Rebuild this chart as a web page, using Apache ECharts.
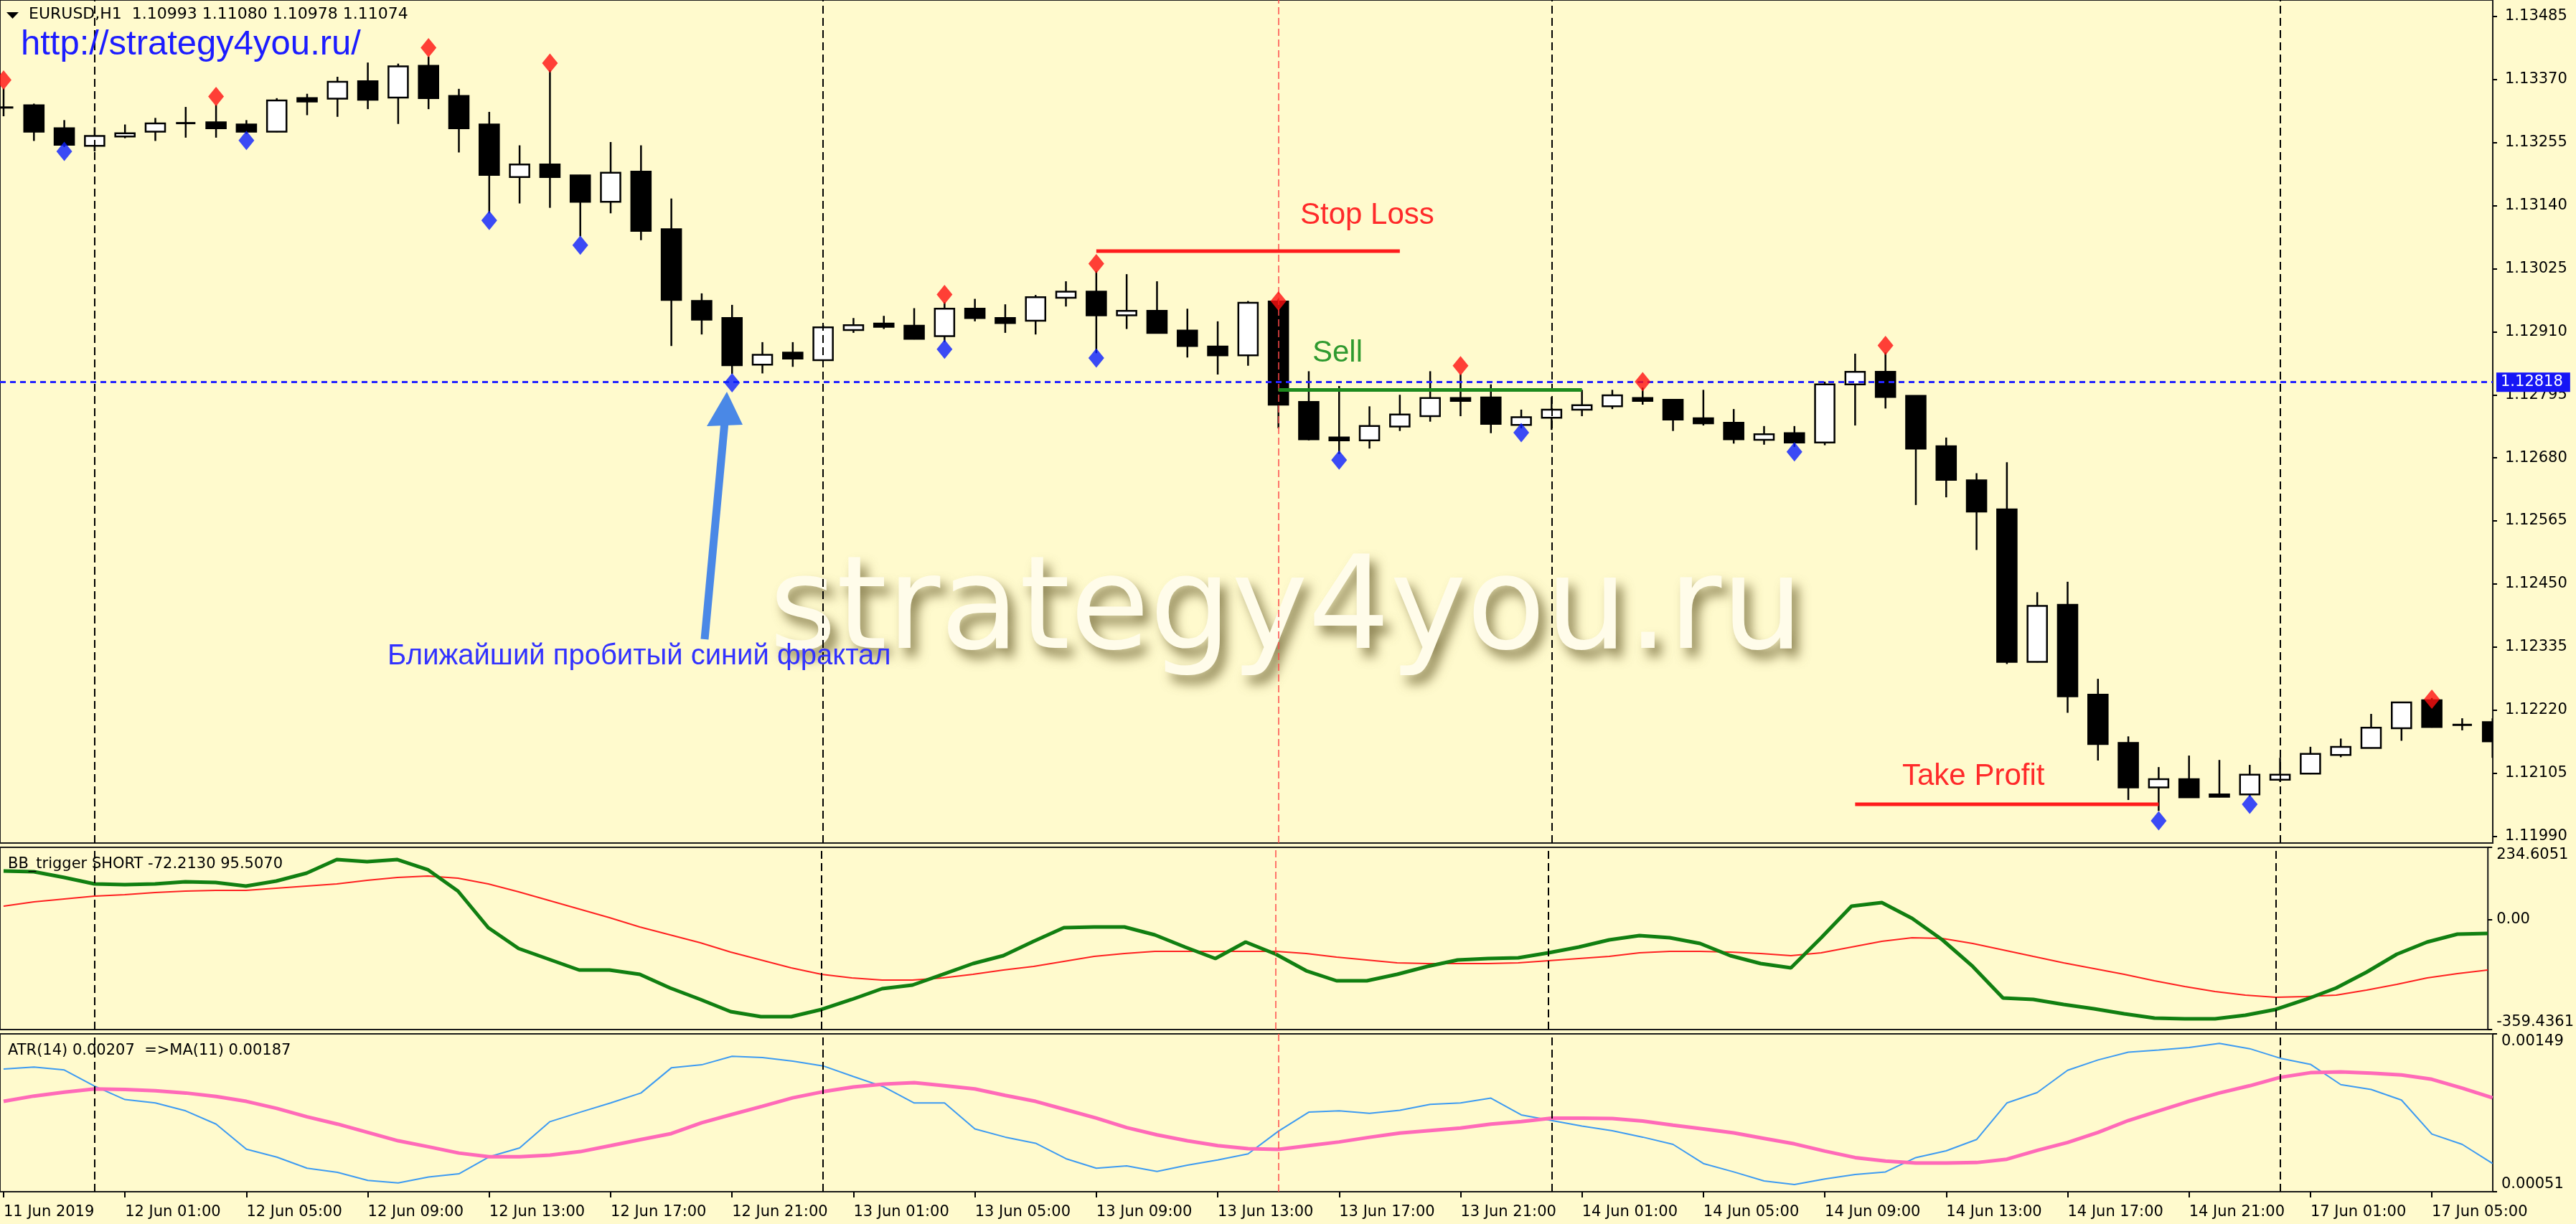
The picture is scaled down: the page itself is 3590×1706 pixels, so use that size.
<!DOCTYPE html>
<html>
<head>
<meta charset="utf-8">
<script src="https://cdn.jsdelivr.net/npm/echarts/dist/echarts.min.js"></script>
<style>
html,body{margin:0;padding:0;background:#fffacd;}
#chart{width:3590px;height:1706px;}
</style>
</head>
<body>
<div id="chart"></div>
<script>
// ---------------- DATA ----------------
const opens = [1.13320,1.13323,1.13281,1.13249,1.13266,1.13275,1.13290,1.13292,1.13288,1.13275,
1.13336,1.13335,1.13367,1.13337,1.13395,1.13340,1.13288,1.13192,1.13215,1.13195,
1.13147,1.13202,1.13097,1.12966,1.12935,1.12850,1.12872,1.12858,1.12913,1.12925,
1.12921,1.12902,1.12952,1.12935,1.12930,1.12972,1.12983,1.12940,1.12948,1.12912,
1.12883,1.12867,1.12965,1.12782,1.12717,1.12712,1.12737,1.12756,1.12789,1.12790,
1.12740,1.12753,1.12768,1.12774,1.12789,1.12786,1.12752,1.12744,1.12713,1.12725,
1.12708,1.12814,1.12837,1.12793,1.12701,1.12639,1.12586,1.12308,1.12412,1.12248,
1.12160,1.12079,1.12094,1.12066,1.12066,1.12093,1.12104,1.12138,1.12151,1.12187,
1.12238,1.12193,1.12198];
const highs = [1.13354,1.13326,1.13296,1.13283,1.13288,1.13300,1.13320,1.13324,1.13296,1.13336,
1.13344,1.13375,1.13401,1.13399,1.13412,1.13353,1.13311,1.13250,1.13387,1.13196,
1.13256,1.13250,1.13153,1.12980,1.12959,1.12891,1.12891,1.12922,1.12935,1.12939,
1.12953,1.12964,1.12970,1.12960,1.12977,1.13002,1.13021,1.13015,1.13002,1.12952,
1.12929,1.12966,1.12969,1.12838,1.12811,1.12774,1.12795,1.12838,1.12833,1.12814,
1.12768,1.12791,1.12804,1.12804,1.12808,1.12787,1.12804,1.12769,1.12738,1.12738,
1.12819,1.12870,1.12872,1.12793,1.12717,1.12652,1.12672,1.12435,1.12454,1.12277,
1.12172,1.12116,1.12137,1.12129,1.12120,1.12133,1.12153,1.12168,1.12213,1.12235,
1.12242,1.12205,1.12205];
const lows = [1.13303,1.13258,1.13247,1.13239,1.13263,1.13258,1.13264,1.13264,1.13271,1.13274,
1.13305,1.13302,1.13316,1.13289,1.13316,1.13237,1.13126,1.13144,1.13136,1.13084,
1.13126,1.13077,1.12884,1.12905,1.12833,1.12834,1.12846,1.12858,1.12908,1.12915,
1.12896,1.12891,1.12929,1.12908,1.12905,1.12956,1.12871,1.12915,1.12907,1.12863,
1.12832,1.12848,1.12734,1.12712,1.12687,1.12697,1.12729,1.12746,1.12756,1.12725,
1.12734,1.12731,1.12756,1.12769,1.12777,1.12729,1.12739,1.12706,1.12704,1.12700,
1.12703,1.12739,1.12770,1.12594,1.12608,1.12512,1.12304,1.12307,1.12215,1.12128,
1.12056,1.12036,1.12060,1.12061,1.12062,1.12089,1.12103,1.12134,1.12150,1.12164,
1.12188,1.12183,1.12133];
const closes = [1.13318,1.13275,1.13251,1.13267,1.13272,1.13290,1.13291,1.13281,1.13275,1.13332,
1.13330,1.13366,1.13333,1.13394,1.13336,1.13281,1.13196,1.13215,1.13192,1.13147,
1.13200,1.13094,1.12968,1.12932,1.12849,1.12868,1.12861,1.12918,1.12922,1.12919,
1.12897,1.12952,1.12935,1.12926,1.12973,1.12983,1.12940,1.12948,1.12908,1.12884,
1.12867,1.12963,1.12777,1.12714,1.12712,1.12738,1.12759,1.12789,1.12784,1.12742,
1.12754,1.12768,1.12776,1.12794,1.12784,1.12750,1.12743,1.12714,1.12723,1.12708,
1.12814,1.12837,1.12791,1.12697,1.12640,1.12582,1.12308,1.12410,1.12245,1.12158,
1.12079,1.12094,1.12061,1.12062,1.12102,1.12102,1.12140,1.12153,1.12188,1.12234,
1.12189,1.12193,1.12163];

// Bill Williams fractals (bar index, marker price)
const fractalUpBars   = [0,7,14,18,31,36,42,48,54,62,80];
const fractalUpPrices = [1.13369,1.13339,1.13428,1.13400,1.12978,1.13034,1.12966,1.12848,1.12819,1.12885,1.12240];
const fractalDnBars   = [2,8,16,19,24,31,36,44,50,59,71,74];
const fractalDnPrices = [1.13239,1.13259,1.13113,1.13068,1.12817,1.12878,1.12862,1.12676,1.12726,1.12691,1.12018,1.12048];

// trade levels: [fromBar, toBar, price]
const stopLoss   = [36, 46, 1.13057];
const sellLevel  = [42, 52, 1.12804];
const takeProfit = [61, 71, 1.12048];
const fractalLevel = 1.12818;

// BB_trigger sub-window
const bbMain = [157.4,155.1,136.4,115.3,113.0,115.3,122.3,120.0,108.3,124.7,
150.4,194.8,187.8,194.8,162.1,91.9,-27.3,-95.2,-130.2,-165.3,
-165.3,-179.4,-223.8,-261.2,-301.0,-317.3,-317.3,-293.9,-261.2,-226.1,
-214.4,-179.4,-144.3,-118.5,-71.8,-27.3,-25.0,-25.0,-50.7,-90.5,
-127.9,-74.1,-113.9,-167.7,-200.4,-200.4,-179.4,-153.6,-132.6,-127.9,
-125.6,-109.2,-90.5,-67.1,-53.1,-60.1,-78.8,-118.5,-144.3,-158.3,
-60.1,42.8,54.5,3.1,-67.1,-153.6,-256.5,-261.2,-277.6,-291.6,
-308.0,-322.0,-324.4,-324.4,-312.7,-293.9,-261.2,-223.8,-172.3,-113.9,
-74.1,-48.4,-46.0];
const bbSignal = [42.8,56.9,66.2,75.6,80.2,87.3,91.9,94.3,94.3,101.3,
108.3,115.3,127.0,136.4,141.1,134.0,115.3,89.6,61.5,33.5,
5.4,-25.0,-50.7,-76.4,-106.9,-132.6,-158.3,-179.4,-191.0,-198.1,
-198.1,-191.0,-179.4,-165.3,-153.6,-137.3,-120.9,-111.5,-104.5,-104.5,
-104.5,-104.5,-104.5,-111.5,-123.2,-132.6,-141.9,-144.3,-144.3,-144.3,
-141.9,-134.9,-127.9,-120.9,-109.2,-104.5,-104.5,-106.9,-111.5,-118.5,
-109.2,-90.5,-71.8,-60.1,-62.4,-78.8,-99.8,-120.9,-141.9,-160.6,
-179.4,-200.4,-219.1,-235.5,-247.2,-254.2,-251.8,-247.2,-230.8,-212.1,
-191.0,-177.0,-165.3];

// ATR(14) and its MA(11)
const atr = [0.001272,0.001284,0.001266,0.001165,0.001082,0.001061,0.001012,0.000930,0.000774,0.000725,
0.000656,0.000630,0.000580,0.000565,0.000601,0.000621,0.000727,0.000782,0.000945,0.001004,
0.001061,0.001123,0.001279,0.001298,0.001351,0.001343,0.001321,0.001291,0.001225,0.001161,
0.001061,0.001061,0.000900,0.000849,0.000811,0.000715,0.000656,0.000670,0.000636,0.000675,
0.000707,0.000745,0.000886,0.001004,0.001012,0.000997,0.001016,0.001052,0.001061,0.001091,
0.000987,0.000952,0.000918,0.000889,0.000849,0.000804,0.000685,0.000633,0.000577,0.000555,
0.000589,0.000617,0.000633,0.000722,0.000764,0.000834,0.001061,0.001126,0.001264,0.001328,
0.001376,0.001390,0.001405,0.001431,0.001398,0.001339,0.001301,0.001175,0.001145,0.001079,
0.000868,0.000804,0.000685];
const atrMa = [0.001071,0.001104,0.001128,0.001148,0.001145,0.001137,0.001123,0.001101,0.001071,0.001027,
0.000975,0.000930,0.000878,0.000826,0.000789,0.000750,0.000727,0.000727,0.000737,0.000759,
0.000796,0.000834,0.000871,0.000938,0.000990,0.001041,0.001093,0.001131,0.001160,0.001178,
0.001187,0.001168,0.001148,0.001108,0.001071,0.001019,0.000967,0.000908,0.000863,0.000826,
0.000796,0.000777,0.000773,0.000796,0.000819,0.000848,0.000874,0.000890,0.000905,0.000930,
0.000945,0.000967,0.000967,0.000964,0.000949,0.000923,0.000900,0.000875,0.000841,0.000807,
0.000762,0.000722,0.000700,0.000688,0.000688,0.000691,0.000712,0.000767,0.000816,0.000878,
0.000952,0.001012,0.001071,0.001123,0.001168,0.001220,0.001249,0.001254,0.001246,0.001235,
0.001208,0.001153,0.001093];

// axis ticks
const priceTicks = [1.11990,1.12105,1.12220,1.12335,1.12450,1.12565,1.12680,1.12795,1.12910,1.13025,1.13140,1.13255,1.13370,1.13485];
const bbTickValues = [-359.4361, 0, 234.6051];
const bbTickLabels = ['-359.4361','0.00','234.6051'];
const atrTickValues = [0.00051, 0.00149];
const atrTickLabels = ['0.00051','0.00149'];
const timeTickBars = [0,4,8,12,16,20,24,28,32,36,40,44,48,52,56,60,64,68,72,76,80];
const timeTickLabels = ['11 Jun 2019','12 Jun 01:00','12 Jun 05:00','12 Jun 09:00','12 Jun 13:00','12 Jun 17:00','12 Jun 21:00',
'13 Jun 01:00','13 Jun 05:00','13 Jun 09:00','13 Jun 13:00','13 Jun 17:00','13 Jun 21:00',
'14 Jun 01:00','14 Jun 05:00','14 Jun 09:00','14 Jun 13:00','14 Jun 17:00','14 Jun 21:00',
'17 Jun 01:00','17 Jun 05:00'];
const daySeparatorBars = [3, 27, 51, 75];
const signalBar = 42;

// ---------------- CHART ----------------
const chart = echarts.init(document.getElementById('chart'), null, {renderer: 'canvas'});
const AX_FONT = 'DejaVu Sans';
const X_MIN = -0.118, X_MAX = 82.007;

const candleData = opens.map((o, i) => [i, o, closes[i], lows[i], highs[i]]);

function renderCandle(params, api) {
  const x = api.value(0), o = api.value(1), c = api.value(2), l = api.value(3), h = api.value(4);
  const pO = api.coord([x, o]), pC = api.coord([x, c]);
  const pL = api.coord([x, l]), pH = api.coord([x, h]);
  const w = api.size([1, 0])[0] * 0.64;
  const top = Math.min(pO[1], pC[1]), bot = Math.max(pO[1], pC[1]);
  const children = [{
    type: 'line',
    shape: {x1: pO[0], y1: pH[1], x2: pO[0], y2: pL[1]},
    style: {stroke: '#000', lineWidth: 2.5}
  }];
  if (bot - top < 3) {
    children.push({type: 'rect', shape: {x: pO[0] - w / 2, y: (top + bot) / 2 - 1.5, width: w, height: 3}, style: {fill: '#000'}});
  } else {
    children.push({type: 'rect', shape: {x: pO[0] - w / 2, y: top, width: w, height: bot - top},
      style: {fill: c > o ? '#ffffff' : '#000000', stroke: '#000', lineWidth: 2.5}});
  }
  return {type: 'group', children};
}

function sepMarkLine() {
  return {
    silent: true, symbol: 'none', label: {show: false},
    data: daySeparatorBars.map(b => ({xAxis: b, lineStyle: {color: '#000', width: 2, type: [11, 6]}}))
      .concat([{xAxis: signalBar, lineStyle: {color: '#ff4a4a', width: 1.5, type: [10, 5]}}])
  };
}

function levelSeries(lv, color) {
  return {type: 'line', xAxisIndex: 0, yAxisIndex: 0, z: 6, symbol: 'none', silent: true,
    data: [[lv[0], lv[2]], [lv[1], lv[2]]], lineStyle: {color: color, width: 5}};
}

const gridBase = {show: true, borderColor: '#1a1a1a', borderWidth: 2, backgroundColor: 'transparent', left: -4, width: 3478};
const hiddenX = (gi) => ({type: 'value', gridIndex: gi, min: X_MIN, max: X_MAX,
  axisLine: {show: false, onZero: false}, axisTick: {show: false}, axisLabel: {show: false}, splitLine: {show: false}});

const option = {
  animation: false,
  backgroundColor: '#fffacd',
  grid: [
    Object.assign({}, gridBase, {top: -2, height: 1177}),
    Object.assign({}, gridBase, {top: 1181, height: 254}),
    Object.assign({}, gridBase, {top: 1441, height: 220})
  ],
  xAxis: [
    hiddenX(0), hiddenX(1),
    {type: 'value', gridIndex: 2, min: X_MIN, max: X_MAX,
      axisLine: {show: false, onZero: false}, splitLine: {show: false},
      axisTick: {show: true, customValues: timeTickBars, length: 8, lineStyle: {color: '#000', width: 2}},
      axisLabel: {show: true, customValues: timeTickBars, align: 'left', margin: 18,
        fontFamily: AX_FONT, fontSize: 21, color: '#000',
        formatter: v => timeTickLabels[timeTickBars.indexOf(Math.round(v))]}}
  ],
  yAxis: [
    {type: 'value', gridIndex: 0, position: 'right', min: 1.1197749, max: 1.1351505, scale: true,
      axisLine: {show: false, onZero: false}, splitLine: {show: false},
      axisTick: {show: true, customValues: priceTicks, length: 6, lineStyle: {color: '#000', width: 2}},
      axisLabel: {show: true, customValues: priceTicks, margin: 17, fontFamily: AX_FONT, fontSize: 21, color: '#000',
        formatter: v => v.toFixed(5)}},
    {type: 'value', gridIndex: 1, position: 'right', min: bbTickValues[0], max: bbTickValues[2],
      axisLine: {show: false, onZero: false}, splitLine: {show: false},
      axisTick: {show: true, customValues: bbTickValues, length: 6, lineStyle: {color: '#000', width: 2}},
      axisLabel: {show: true, customValues: bbTickValues, margin: 12, fontFamily: AX_FONT, fontSize: 21, color: '#000',
        verticalAlignMaxLabel: 'top', verticalAlignMinLabel: 'bottom',
        formatter: v => bbTickLabels[bbTickValues.findIndex(t => Math.abs(t - v) < 1e-6)]}},
    {type: 'value', gridIndex: 2, position: 'right', min: atrTickValues[0], max: atrTickValues[1],
      axisLine: {show: false, onZero: false}, splitLine: {show: false},
      axisTick: {show: true, customValues: atrTickValues, length: 6, lineStyle: {color: '#000', width: 2}},
      axisLabel: {show: true, customValues: atrTickValues, margin: 12, fontFamily: AX_FONT, fontSize: 21, color: '#000',
        verticalAlignMaxLabel: 'top', verticalAlignMinLabel: 'bottom',
        formatter: v => atrTickLabels[atrTickValues.findIndex(t => Math.abs(t - v) < 1e-9)]}}
  ],
  series: [
    // separators main window
    {type: 'line', xAxisIndex: 0, yAxisIndex: 0, z: 1, data: [], markLine: sepMarkLine()},
    // candles
    {type: 'custom', xAxisIndex: 0, yAxisIndex: 0, z: 3, clip: true, renderItem: renderCandle,
      encode: {x: 0, y: [1, 2, 3, 4]}, data: candleData},
    levelSeries(stopLoss, '#ff1c1c'),
    levelSeries(sellLevel, '#1d8a1d'),
    levelSeries(takeProfit, '#ff1c1c'),
    // fractals
    {type: 'scatter', xAxisIndex: 0, yAxisIndex: 0, z: 7, symbol: 'diamond', symbolSize: [22, 27],
      itemStyle: {color: '#ff1010'}, data: fractalUpBars.map((b, k) => [b, fractalUpPrices[k]])},
    {type: 'scatter', xAxisIndex: 0, yAxisIndex: 0, z: 7, symbol: 'diamond', symbolSize: [22, 27],
      itemStyle: {color: '#0a1eff'}, data: fractalDnBars.map((b, k) => [b, fractalDnPrices[k]]),
      // broken fractal level (dotted) with its price label on the axis
      markLine: {silent: true, symbol: 'none', precision: 5,
        lineStyle: {color: '#2424ff', width: 3, type: [8, 6]},
        label: {show: true, position: 'end', distance: 5, formatter: () => fractalLevel.toFixed(5),
          backgroundColor: '#1616f5', color: '#ffffff', fontFamily: AX_FONT, fontSize: 21, padding: [3, 10, 3, 6]},
        data: [{yAxis: fractalLevel}]}},
    // BB_trigger window
    {type: 'line', xAxisIndex: 1, yAxisIndex: 1, z: 1, data: [], markLine: sepMarkLine()},
    {type: 'line', xAxisIndex: 1, yAxisIndex: 1, z: 3, symbol: 'none', data: bbSignal.map((v, i) => [i, v]),
      lineStyle: {color: '#ff2020', width: 2}},
    {type: 'line', xAxisIndex: 1, yAxisIndex: 1, z: 4, symbol: 'none', data: bbMain.map((v, i) => [i, v]),
      lineStyle: {color: '#117f11', width: 5}},
    // ATR window
    {type: 'line', xAxisIndex: 2, yAxisIndex: 2, z: 1, data: [], markLine: sepMarkLine()},
    {type: 'line', xAxisIndex: 2, yAxisIndex: 2, z: 3, symbol: 'none', data: atr.map((v, i) => [i, v]),
      lineStyle: {color: '#3d9bf2', width: 2}},
    {type: 'line', xAxisIndex: 2, yAxisIndex: 2, z: 4, symbol: 'none', data: atrMa.map((v, i) => [i, v]),
      lineStyle: {color: '#ff6ab8', width: 5}}
  ],
  graphic: [
    {type: 'text', z: 0, left: 1072, top: 766, silent: true,
      style: {text: 'strategy4you.ru', font: '180px "DejaVu Sans"', fill: '#fffcea',
        textShadowColor: 'rgba(105,95,45,0.75)', textShadowBlur: 16, textShadowOffsetX: 9, textShadowOffsetY: 12,
        shadowColor: 'rgba(105,95,45,0.75)', shadowBlur: 16, shadowOffsetX: 9, shadowOffsetY: 12}},
    {type: 'polygon', z: 10, shape: {points: [[9, 17], [26, 17], [17.5, 26]]}, style: {fill: '#000'}},
    {type: 'text', z: 10, left: 40, top: 9, style: {text: 'EURUSD,H1  1.10993 1.11080 1.10978 1.11074', font: '22px "DejaVu Sans"', fill: '#000'}},
    {type: 'text', z: 10, left: 29, top: 38, style: {text: 'http://strategy4you.ru/', font: '49px "Liberation Sans"', fill: '#1c1cff'}},
    {type: 'text', z: 10, left: 11, top: 1194, style: {text: 'BB_trigger SHORT -72.2130 95.5070', font: '21px "DejaVu Sans"', fill: '#000'}},
    {type: 'text', z: 10, left: 11, top: 1454, style: {text: 'ATR(14) 0.00207  =>MA(11) 0.00187', font: '21px "DejaVu Sans"', fill: '#000'}},
    {type: 'text', z: 10, left: 1812, top: 279, style: {text: 'Stop Loss', font: '42px "Liberation Sans"', fill: '#ff2a2a'}},
    {type: 'text', z: 10, left: 1829, top: 471, style: {text: 'Sell', font: '42px "Liberation Sans"', fill: '#2f9a2f'}},
    {type: 'text', z: 10, left: 2651, top: 1061, style: {text: 'Take Profit', font: '42px "Liberation Sans"', fill: '#ff2a2a'}},
    {type: 'text', z: 10, left: 540, top: 895, style: {text: 'Ближайший пробитый синий фрактал', font: '40px "Liberation Sans"', fill: '#3232ff'}},
    {type: 'line', z: 10, shape: {x1: 982, y1: 891, x2: 1010, y2: 588}, style: {stroke: '#4a88e6', lineWidth: 11}},
    {type: 'polygon', z: 10, shape: {points: [[1013, 546], [985, 594], [1035, 592]]}, style: {fill: '#4a88e6'}}
  ]
};
chart.setOption(option);
</script>
</body>
</html>
